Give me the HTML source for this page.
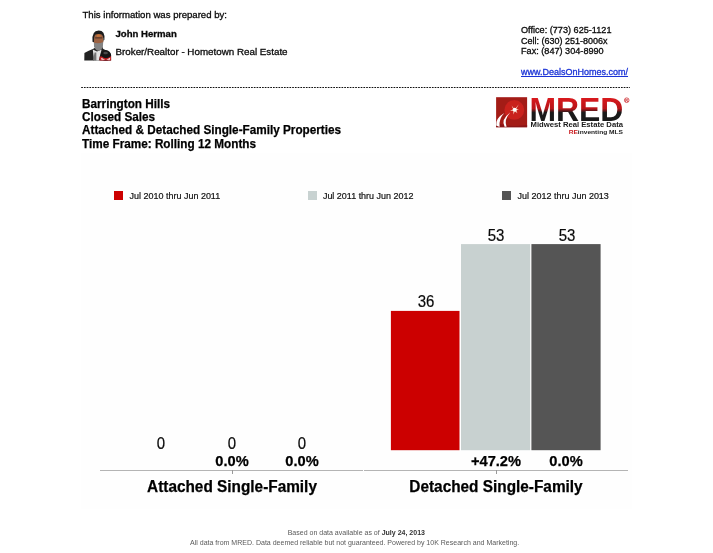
<!DOCTYPE html>
<html><head><meta charset="utf-8">
<style>
html,body{margin:0;padding:0;background:#fff;}
body{width:713px;height:553px;position:relative;overflow:hidden;font-family:"Liberation Sans",Arial,sans-serif;color:#111;}
.t{position:absolute;white-space:nowrap;line-height:1;}
.s{font-size:9.6px;color:#0a0a0a;-webkit-text-stroke:0.3px #0a0a0a;}
.s2{font-size:9.15px;color:#0a0a0a;-webkit-text-stroke:0.3px #0a0a0a;}
.b{font-weight:bold;}
.h{font-size:12.24px;font-weight:bold;color:#000;transform-origin:0 50%;transform:scaleX(0.96);-webkit-text-stroke:0.25px #000;}
.lg{font-size:8.97px;color:#111;-webkit-text-stroke:0.2px #111;}
.v{font-size:15.6px;color:#0a0a0a;transform:translateX(-50%) scaleX(0.96);-webkit-text-stroke:0.2px #0a0a0a;}
.p{font-size:15.26px;font-weight:bold;color:#000;transform:translateX(-50%) scaleX(0.96);-webkit-text-stroke:0.25px #000;}
.c{font-size:16px;font-weight:bold;color:#000;transform:translateX(-50%) scaleX(0.96);-webkit-text-stroke:0.25px #000;}
.f{font-size:7.03px;color:#5a5a5a;transform:translateX(-50%);}
.f b{color:#333;}
.r{position:absolute;}
</style></head><body>
<div class="t s" style="left:82.5px;top:9.5px;">This information was prepared by:</div>
<div class="t s b" style="left:115.5px;top:28.6px;">John Herman</div>
<div class="t s" style="left:115.5px;top:47px;font-size:9.8px;">Broker/Realtor - Hometown Real Estate</div>
<div class="t s2" style="left:521px;top:25.8px;">Office: (773) 625-1121</div>
<div class="t s2" style="left:521px;top:36.5px;font-size:9.0px;">Cell: (630) 251-8006x</div>
<div class="t s2" style="left:521px;top:46.5px;">Fax: (847) 304-8990</div>
<div class="t s2" style="left:521px;top:67.6px;font-size:9.0px;color:#1b33d6;-webkit-text-stroke:0.3px #1b33d6;text-decoration:underline;text-decoration-thickness:0.7px;">www.DealsOnHomes.com/</div>

<svg class="r" style="left:84px;top:29px;" width="28" height="33" viewBox="0 0 28 33">
  <defs><filter id="bl" x="-10%" y="-10%" width="120%" height="120%"><feGaussianBlur stdDeviation="0.45"/></filter></defs>
  <g filter="url(#bl)">
  <path d="M0.3 31.6 L0.4 24 Q4 22 9.4 19.8 L12 18 L18.5 18 L19 19.8 Q23 21.5 27 25 L27.1 31.6 Z" fill="#232323"/>
  <path d="M8.8 20.6 L10 31.6 L14.8 31.6 L17.6 20.4 L13 22.5 Z" fill="#e2e2e2"/>
  <path d="M10.6 23.6 L8.9 31.6 L12.4 31.6 L12.3 23.6 Z" fill="#747474"/>
  <path d="M9.8 12 L10 17.5 Q12 21.8 14.3 21.8 Q17.2 21.8 18.9 17.5 L19.3 12 Z" fill="#848484"/>
  <path d="M9.8 8 Q9.8 4.6 14.5 4.6 Q19.3 4.6 19.3 8 L19.3 13 Q14.5 15 9.8 13.6 Z" fill="#9c6242"/>
  <path d="M11 8.2 L18.4 8.2 L18.2 9.6 L11.2 9.6Z" fill="#5a3a2a"/>
  <path d="M12.3 5.2 L16 5.2 L17 7.5 L13 8Z" fill="#c47238"/>
  <path d="M8.5 12.8 Q7.4 1.5 14.7 1.5 Q21.3 1.5 20.4 10.7 L19.4 12 Q19.6 6.3 17 5.3 Q14 4.6 11.6 5.6 Q9.8 6.8 10 13.3 Z" fill="#1e1e1e"/>
  <circle cx="21.8" cy="26.4" r="5.3" fill="#181818"/>
  <path d="M15.6 27.8 L18 27.2 L27.1 27.2 L27.1 31.6 L15.6 31.6 Z" fill="#c01c20"/>
  <path d="M17.5 27.2 Q21.8 31.5 26.8 27.2 L26 27 Q21.8 25 17.5 27.2Z" fill="#181818"/>
  <path d="M17.2 28.8 L21.2 30.8 L17.4 30.8Z M26.2 28.8 L22.4 30.8 L26 30.8Z" fill="#f4e6e6"/>
  <ellipse cx="21.6" cy="24" rx="2.3" ry="1.2" fill="#4a4a4a"/>
  </g>
</svg>

<svg class="r" style="left:80px;top:86px;" width="552" height="3" viewBox="0 0 552 3"><line x1="1.2" y1="1.5" x2="550" y2="1.5" stroke="#111" stroke-width="1" stroke-dasharray="1.7 1.04"/></svg>

<div class="t h" style="left:82px;top:97.7px;">Barrington Hills</div>
<div class="t h" style="left:82px;top:110.6px;">Closed Sales</div>
<div class="t h" style="left:82px;top:123.9px;">Attached &amp; Detached Single-Family Properties</div>
<div class="t h" style="left:82px;top:137.5px;">Time Frame: Rolling 12 Months</div>

<!-- logo -->
<svg class="r" style="left:494px;top:95px;" width="142" height="44" viewBox="0 0 142 44">
  <defs>
    <linearGradient id="lg1" gradientUnits="userSpaceOnUse" x1="0" y1="3.4" x2="0" y2="25.6">
      <stop offset="0" stop-color="#d8191d"/><stop offset="0.46" stop-color="#b81519"/><stop offset="0.64" stop-color="#1a1a1a"/><stop offset="1" stop-color="#1a1a1a"/>
    </linearGradient>
    <filter id="bl2" x="-10%" y="-10%" width="120%" height="120%"><feGaussianBlur stdDeviation="0.3"/></filter>
  </defs>
  <g filter="url(#bl2)">
  <rect x="2.1" y="2.2" width="31" height="30" fill="#a31c19"/>
  <circle cx="20.3" cy="14.9" r="9.9" fill="#c9211f"/>
  <path d="M2.1 32.2 L2.1 27 Q12 33 33.1 30 L33.1 32.2 Z" fill="#8a1614"/>
  <path d="M2.2 30.6 Q1.6 23 10.4 18 Q4.6 23.6 5.6 32 Z" fill="#fff"/>
  <path d="M10.6 31.8 Q6.6 24.6 16.2 17.5 Q9.6 24.8 12.6 31.8 Z" fill="#fff"/>
  <path d="M20.7 14.6 L24.8 9.2 L22.2 13.9 L25 14.6 L22.3 15.3 L23.4 18.3 L20.9 16.2 L19.2 19.5 L19.5 15.8 L16 16 L19.2 14.2 L17.6 10.6 Z" fill="#f6d9c0"/>
  <circle cx="20.7" cy="14.7" r="1.9" fill="#fff"/>
  </g>
  <text x="35.4" y="25.6" font-family="Liberation Sans, Arial, sans-serif" font-weight="bold" font-size="32.3" fill="url(#lg1)" textLength="94" lengthAdjust="spacingAndGlyphs">MRED</text>
  <circle cx="132.7" cy="5.2" r="2.3" fill="none" stroke="#c8191d" stroke-width="0.7"/>
  <text x="132.7" y="6.6" font-family="Liberation Sans, Arial, sans-serif" font-size="3.8" font-weight="bold" fill="#c8191d" text-anchor="middle">R</text>
  <text x="36.5" y="31.8" font-family="Liberation Sans, Arial, sans-serif" font-weight="bold" font-size="7.4" fill="#1a1a1a" textLength="92.5" lengthAdjust="spacingAndGlyphs">Midwest Real Estate Data</text>
  <text x="74.7" y="38.5" font-family="Liberation Sans, Arial, sans-serif" font-weight="bold" font-size="5.8" fill="#222" textLength="54.3" lengthAdjust="spacingAndGlyphs"><tspan fill="#c8191d">RE</tspan>inventing MLS</text>
</svg>

<div class="r" style="left:81px;top:153px;width:551px;height:356px;background:#fefefe;"></div>
<!-- legend -->
<div class="r" style="left:114px;top:190.6px;width:9.3px;height:9.3px;background:#cc0000;"></div>
<div class="t lg" style="left:129.6px;top:192.1px;">Jul 2010 thru Jun 2011</div>
<div class="r" style="left:308px;top:190.6px;width:9.3px;height:9.3px;background:#c8d2d1;"></div>
<div class="t lg" style="left:322.9px;top:192.1px;">Jul 2011 thru Jun 2012</div>
<div class="r" style="left:502px;top:190.6px;width:9.3px;height:9.3px;background:#555555;"></div>
<div class="t lg" style="left:517.6px;top:192.1px;">Jul 2012 thru Jun 2013</div>

<!-- bars -->
<svg class="r" style="left:380px;top:240px;" width="230" height="215" viewBox="380 240 230 215">
  <rect x="390.9" y="310.9" width="68.6" height="139.3" fill="#cc0000"/>
  <rect x="461" y="244.1" width="69.2" height="206.1" fill="#c8d1d0"/>
  <rect x="531.4" y="244.1" width="69.2" height="206.1" fill="#555555"/>
</svg>

<div class="t v" style="left:425.6px;top:293.7px;">36</div>
<div class="t v" style="left:496.2px;top:227.5px;">53</div>
<div class="t v" style="left:566.5px;top:227.5px;">53</div>

<div class="t v" style="left:161.1px;top:435.7px;">0</div>
<div class="t v" style="left:231.6px;top:435.7px;">0</div>
<div class="t v" style="left:302px;top:435.7px;">0</div>
<div class="t p" style="left:231.9px;top:452.6px;">0.0%</div>
<div class="t p" style="left:302.1px;top:452.6px;">0.0%</div>
<div class="t p" style="left:495.9px;top:452.6px;">+47.2%</div>
<div class="t p" style="left:566.2px;top:452.6px;">0.0%</div>

<div class="r" style="left:100px;top:470px;width:263px;height:1px;background:#b4b4b4;"></div>
<div class="r" style="left:231.5px;top:470px;width:1px;height:3.5px;background:#999;"></div>
<div class="r" style="left:364px;top:470px;width:264px;height:1px;background:#b4b4b4;"></div>
<div class="r" style="left:496px;top:470px;width:1px;height:3.5px;background:#999;"></div>

<div class="t c" style="left:231.9px;top:479.2px;">Attached Single-Family</div>
<div class="t c" style="left:495.6px;top:479.2px;">Detached Single-Family</div>

<div class="t f" style="left:356.3px;top:529.1px;">Based on data available as of <b>July 24, 2013</b></div>
<div class="t f" style="left:354.6px;top:538.5px;">All data from MRED. Data deemed reliable but not guaranteed. Powered by 10K Research and Marketing.</div>
</body></html>
